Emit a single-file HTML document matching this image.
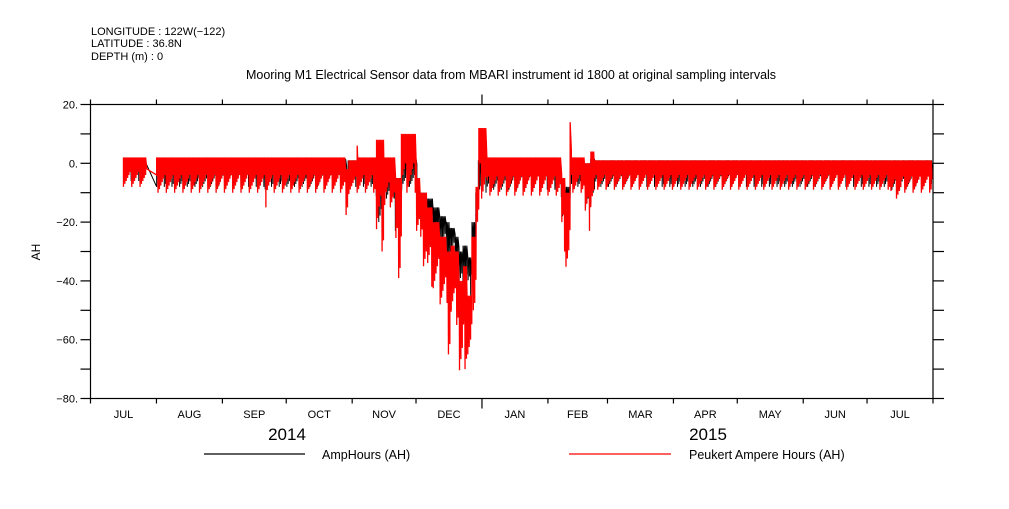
<!DOCTYPE html>
<html><head><meta charset="utf-8"><style>
body{margin:0;background:#fff;width:1009px;height:504px;overflow:hidden}
svg text{font-family:"Liberation Sans",sans-serif;fill:#000}
</style></head><body>
<svg id="chart" width="1009" height="504" viewBox="0 0 1009 504" xmlns="http://www.w3.org/2000/svg">
<g font-size="11">
<text x="91" y="35">LONGITUDE : 122W(−122)</text>
<text x="91" y="47">LATITUDE : 36.8N</text>
<text x="91" y="60">DEPTH (m) : 0</text>
</g>
<text x="511" y="79" font-size="12.5" text-anchor="middle">Mooring M1 Electrical Sensor data from MBARI instrument id 1800 at original sampling intervals</text>
<text transform="translate(40,252) rotate(-90)" font-size="12" text-anchor="middle">AH</text>
<g id="series"></g>
<g id="axes" stroke="#000" stroke-width="1.2" fill="none"></g>
<g id="labels" font-size="11"></g>
<text x="287" y="440" font-size="17" text-anchor="middle">2014</text>
<text x="708" y="440" font-size="17" text-anchor="middle">2015</text>
<g>
<line x1="204" y1="454" x2="305" y2="454" stroke="#000" stroke-width="1.2"/>
<text x="322" y="459" font-size="12.5">AmpHours (AH)</text>
<line x1="569" y1="454" x2="671" y2="454" stroke="#f00" stroke-width="1.2"/>
<text x="689" y="459" font-size="12.5">Peukert Ampere Hours (AH)</text>
</g>
</svg>
<script>
// segment start day (days since 2014-07-01) and envelope values (AH)
const segStart = [15.5,26,31,82,83,120,121,125,126,134,138,143,146,153,155,158,161,164,167,169,171,173,175,177,179,181,182,186,221,223,225,226,232,235,237,376,381];
const redHi   = [2,null,2,2,2,-2,1,6,2,8,2,-5,10,-5,-10,-15,-20,-25,-30,-28,-30,-40,-35,-45,-25,-8,12,2,-5,-10,14,2,0,4,1,1,1];
const redLo   = [-8,null,-10,-15,-10,-28,-10,-10,-10,-30,-15,-39,-10,-25,-35,-42,-45,-48,-65,-55,-55,-78,-70,-70,-50,-25,-12,-11,-30,-38,-10,-10,-23,-15,-9,-12,-10];
const blkHi   = [1.5,null,1.5,1.5,1.5,-2,1,2,1.5,2,1,-5,2,-8,-10,-12,-15,-18,-20,-22,-25,-30,-28,-32,-20,-10,1,1.5,-5,-8,1.5,1.5,0,1.5,1,1,1];
const blkLo   = [-6,null,-8,-10,-8,-15,-8,-8,-8,-20,-12,-25,-8,-20,-25,-25,-30,-28,-40,-32,-35,-45,-42,-45,-40,-20,-10,-9,-18,-25,-8,-8,-15,-10,-8,-9,-8];
const dataEnd = 395.5;
const yTicks = [20,0,-20,-40,-60,-80];
const yTickLabels = ["20.","0.","-20.","-40.","-60.","-80."];
const monthNames = ["JUL","AUG","SEP","OCT","NOV","DEC","JAN","FEB","MAR","APR","MAY","JUN","JUL"];
const monthStartDays = [0,31,62,92,123,153,184,215,243,274,304,335,365,396];

const X0=90.5, X1=933, Y0=104.5, Y1=398.5;
const xS = d => X0 + (X1-X0)*d/396;
const yS = v => Y0 + (Y1-Y0)*(20-v)/100;
const NS="http://www.w3.org/2000/svg";
function el(tag, attrs, parent){const e=document.createElementNS(NS,tag);for(const k in attrs)e.setAttribute(k,attrs[k]);parent.appendChild(e);return e;}

function segIndex(t){let i=0;for(let k=0;k<segStart.length;k++){if(segStart[k]<=t)i=k;}return i;}
function buildPath(hiArr, loArr, step, fill){
  let d="";let n=0;
  for(let t=segStart[0];t<dataEnd;t+=step){
    const i=segIndex(t);
    if(hiArr[i]===null)continue;
    const hi=hiArr[i], lo=loArr[i];
    const f=1-0.1*(n%6); n++;
    const low=hi-(hi-lo)*f;
    const x=xS(t), x2=xS(t+step*0.85);
    d+=(d?"L":"M")+x.toFixed(2)+","+yS(low).toFixed(2)+"L"+x.toFixed(2)+","+yS(hi).toFixed(2);
    d+="L"+x2.toFixed(2)+","+yS(hi-(hi-lo)*fill*f).toFixed(2);
  }
  return d;
}
const sg=document.getElementById('series');
const pb=el('path',{d:buildPath(blkHi,blkLo,0.6,0.45),stroke:"#000","stroke-width":"1",fill:"none"},sg);


const pr=el('path',{d:buildPath(redHi,redLo,0.65,0.65),stroke:"#f00","stroke-width":"1.3",fill:"none"},sg);



const ax=document.getElementById('axes');
const frame=el('rect',{x:X0,y:Y0,width:X1-X0,height:Y1-Y0},ax);


for(let v=20;v>=-80;v-=10){
  const l=el('line',{x1:X0-10,x2:X0,y1:yS(v),y2:yS(v)},ax);
  
  
  const r=el('line',{x1:X1,x2:X1+11,y1:yS(v),y2:yS(v)},ax);
  
  
}
const lb=document.getElementById('labels');
yTicks.forEach((v,i)=>{
  const t=el('text',{x:78,y:yS(v)+4,"text-anchor":"end"},lb);
  t.textContent=yTickLabels[i].replace('-','−');
  
  
});
monthStartDays.forEach((d,i)=>{
  const yr=(d===184);
  const a=el('line',{x1:xS(d),x2:xS(d),y1:Y0,y2:Y0-(yr?10:5)},ax);
  
  
  const b=el('line',{x1:xS(d),x2:xS(d),y1:Y1,y2:Y1+(yr?10:5)},ax);
  
  
  if(i<monthNames.length){
    const mid=(d+monthStartDays[i+1])/2;
    const t=el('text',{x:xS(mid),y:418,"text-anchor":"middle"},lb);
    t.textContent=monthNames[i];
    
    
  }
});
</script>
</body></html>
